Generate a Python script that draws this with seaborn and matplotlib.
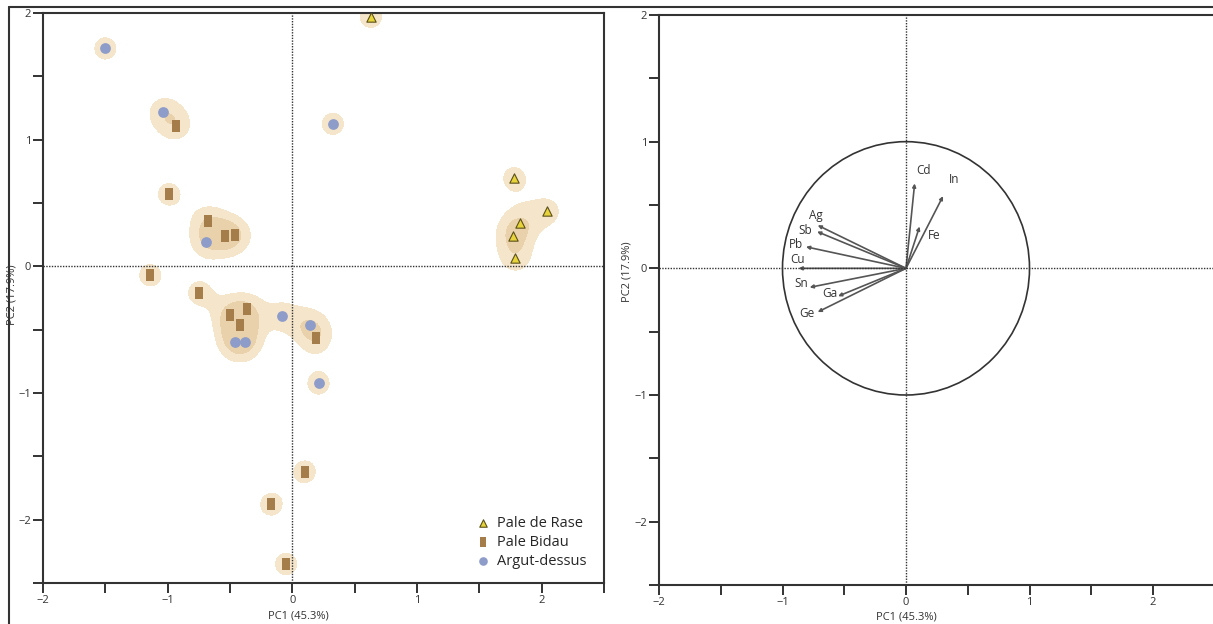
import numpy as np
import pandas as pd
import seaborn as sns
import matplotlib.pyplot as plt
from matplotlib.lines import Line2D
from matplotlib.patches import Circle
from matplotlib.colors import ListedColormap

# -------------------------------------------------
# Data
# -------------------------------------------------
rase_x = [0.63, 1.78, 2.045, 1.825, 1.77, 1.79]
rase_y = [1.97, 0.695, 0.435, 0.34, 0.24, 0.065]

bidau_x = [-0.93, -0.99, -0.68, -0.54, -0.46, -1.14, -0.745, -0.50, -0.36, -0.42,
           0.19, 0.10, -0.17, -0.05]
bidau_y = [1.11, 0.57, 0.36, 0.24, 0.245, -0.07, -0.21, -0.385, -0.34, -0.465,
           -0.565, -1.62, -1.88, -2.35]

argut_x = [-1.50, -1.035, -0.69, -0.46, -0.38, -0.08, 0.14, 0.21, 0.325]
argut_y = [1.72, 1.22, 0.19, -0.60, -0.60, -0.39, -0.46, -0.925, 1.125]

groups = ["Pale de Rase", "Pale Bidau", "Argut-dessus"]

# loadings (right panel)
elements = ["Cd", "In", "Fe", "Ag", "Sb", "Pb", "Cu", "Sn", "Ga", "Ge"]
load_pc1 = [0.07, 0.30, 0.11, -0.715, -0.72, -0.81, -0.87, -0.78, -0.55, -0.715]
load_pc2 = [0.67, 0.57, 0.33, 0.34, 0.29, 0.17, 0.0, -0.15, -0.22, -0.345]

# label offsets from arrow tip (data units)
label_off = {
    "Cd": (0.07, 0.10), "In": (0.09, 0.13), "Fe": (0.12, -0.07),
    "Ag": (-0.015, 0.08), "Sb": (-0.095, 0.01), "Pb": (-0.08, 0.02),
    "Cu": (-0.01, 0.07), "Sn": (-0.07, 0.03), "Ga": (-0.07, 0.02),
    "Ge": (-0.085, -0.015),
}

# -------------------------------------------------
# Style
# -------------------------------------------------
sns.set_theme(style="ticks")
plt.rcParams["font.family"] = ["Open Sans", "DejaVu Sans"]
dark = "#333333"


def style_axes(ax):
    ax.set_xlim(-2, 2.5)
    ax.set_ylim(-2.5, 2)
    ax.set_xticks([-2, -1, 0, 1, 2])
    ax.set_xticks([-1.5, -0.5, 0.5, 1.5, 2.5], minor=True)
    ax.set_yticks([-2, -1, 0, 1, 2])
    ax.set_yticks([-2.5, -1.5, -0.5, 0.5, 1.5], minor=True)
    ax.tick_params(which="both", direction="out", length=7, width=1.4,
                   color=dark, labelsize=8, labelcolor=dark, pad=1.5)
    for s in ax.spines.values():
        s.set_linewidth(1.5)
        s.set_color(dark)
    ax.axhline(0, ls=(0, (1, 1)), lw=1.0, color=dark, zorder=3)
    ax.axvline(0, ls=(0, (1, 1)), lw=1.0, color=dark, zorder=3)


fig = plt.figure(figsize=(12.13, 6.24), dpi=100)
ax1 = fig.add_axes([0.03545, 0.06571, 0.46249, 0.91346])
ax2 = fig.add_axes([0.54328, 0.0625, 0.45817, 0.91346])

# -------------------------------------------------
# Left panel: scores with density shading
# -------------------------------------------------
scores = pd.DataFrame({
    "pc1": rase_x + bidau_x + argut_x,
    "pc2": rase_y + bidau_y + argut_y,
})
sns.kdeplot(data=scores, x="pc1", y="pc2", fill=True, bw_adjust=0.2,
            levels=[0.45, 0.8, 1.0], cmap=ListedColormap(["#f4e5cb", "#e9d2ab"]),
            gridsize=300, ax=ax1)

sns.scatterplot(x=rase_x, y=rase_y, marker="^", s=45, color="#e6d43a",
                edgecolor="#5c4f1a", linewidth=0.8, label=groups[0], ax=ax1, zorder=4)
rect = [(-0.35, -0.5), (0.35, -0.5), (0.35, 0.5), (-0.35, 0.5)]
sns.scatterplot(x=bidau_x, y=bidau_y, marker=rect, s=80, color="#a47d4a",
                linewidth=0, label=groups[1], ax=ax1, zorder=4)
sns.scatterplot(x=argut_x, y=argut_y, marker="o", s=60, color="#8e9cc9",
                linewidth=0, label=groups[2], ax=ax1, zorder=4)

style_axes(ax1)
ax1.set_xlabel("PC1 (45.3%)", fontsize=8, color=dark)
ax1.set_ylabel("PC2 (17.9%)", fontsize=8, color=dark)
ax1.xaxis.set_label_coords(0.456, -0.049)
ax1.yaxis.set_label_coords(-0.045, 0.506)
ax1.legend(loc="lower right", bbox_to_anchor=(0.985, 0.01), frameon=False,
           fontsize=10.5, handletextpad=0.0, labelspacing=0.25, markerscale=0.8,
           borderaxespad=0.2)

# -------------------------------------------------
# Right panel: loadings circle
# -------------------------------------------------
ax2.add_patch(Circle((0, 0), 1, fill=False, lw=1.2, color=dark))
for el, px, py in zip(elements, load_pc1, load_pc2):
    ax2.annotate("", xy=(px, py), xytext=(0, 0),
                 arrowprops=dict(arrowstyle="-|>", mutation_scale=5, lw=1.2,
                                 color="#555555", shrinkA=0, shrinkB=0))
    ox, oy = label_off[el]
    ax2.text(px + ox, py + oy, el, fontsize=8.5, color=dark,
             ha="center", va="center")

style_axes(ax2)
ax2.set_xlabel("PC1 (45.3%)", fontsize=8, color=dark)
ax2.set_ylabel("PC2 (17.9%)", fontsize=8, color=dark)
ax2.xaxis.set_label_coords(0.446, -0.047)
ax2.yaxis.set_label_coords(-0.047, 0.549)

# outer frame lines
fig.add_artist(Line2D([0.0074, 1.0], [0.9888, 0.9888], lw=1.5, color=dark))
fig.add_artist(Line2D([0.0074, 0.0074], [0.0, 0.9888], lw=1.5, color=dark))

fig.savefig("out.png", dpi=100)
